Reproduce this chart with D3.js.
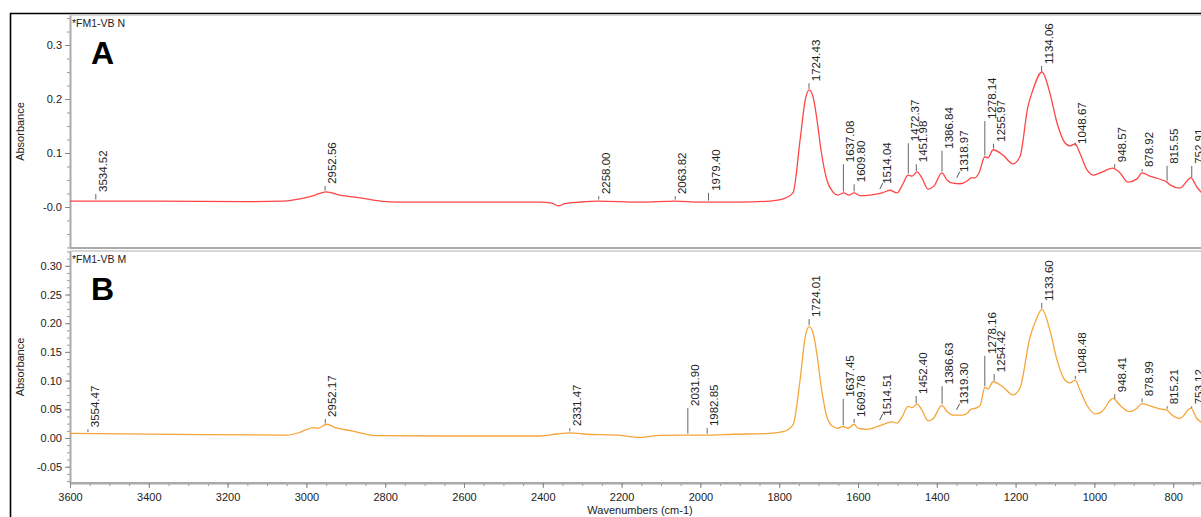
<!DOCTYPE html>
<html>
<head>
<meta charset="utf-8">
<script src="https://cdn.jsdelivr.net/npm/d3@7"></script>
<style>
  body { margin: 0; background: #fff; }
  text { font-family: "Liberation Sans", Arial, sans-serif; }
</style>
</head>
<body>
<div id="chart"></div>
<script>
// spectrum A (*FM1-VB N), wavenumber / absorbance
const wnA = [3600, 3397, 3143, 3059, 3016, 2978, 2950, 2915, 2864, 2813, 2762, 2509, 2407, 2377, 2361, 2344, 2306, 2260, 2153, 2064, 2001, 1899, 1823, 1790, 1765, 1747, 1734, 1724, 1714, 1704, 1694, 1679, 1664, 1651, 1636, 1623, 1610, 1595, 1570, 1539, 1519, 1501, 1486, 1473, 1463, 1450, 1438, 1422, 1407, 1387, 1374, 1359, 1341, 1323, 1313, 1303, 1293, 1278, 1270, 1257, 1232, 1207, 1189, 1169, 1156, 1133, 1113, 1095, 1075, 1062, 1049, 1037, 1019, 1004, 986, 953, 935, 915, 892, 879, 859, 828, 816, 808, 783, 755, 740, 730, 720];
const absA = [0.011, 0.011, 0.010, 0.011, 0.015, 0.022, 0.028, 0.022, 0.017, 0.011, 0.009, 0.009, 0.009, 0.007, 0.002, 0.006, 0.009, 0.011, 0.009, 0.011, 0.009, 0.009, 0.011, 0.015, 0.026, 0.124, 0.198, 0.217, 0.204, 0.161, 0.106, 0.050, 0.028, 0.022, 0.026, 0.022, 0.026, 0.021, 0.022, 0.026, 0.031, 0.026, 0.043, 0.059, 0.057, 0.065, 0.054, 0.033, 0.039, 0.063, 0.050, 0.044, 0.043, 0.048, 0.054, 0.054, 0.063, 0.093, 0.091, 0.106, 0.096, 0.080, 0.093, 0.185, 0.217, 0.250, 0.211, 0.156, 0.119, 0.113, 0.117, 0.100, 0.069, 0.059, 0.063, 0.072, 0.063, 0.046, 0.052, 0.063, 0.057, 0.050, 0.046, 0.041, 0.035, 0.054, 0.037, 0.028, 0.022];

// spectrum B (*FM1-VB M)
const wnB = [3600, 3270, 3049, 3016, 2983, 2971, 2948, 2927, 2889, 2821, 2635, 2407, 2364, 2331, 2298, 2204, 2153, 2103, 2034, 1983, 1917, 1823, 1790, 1765, 1747, 1734, 1724, 1714, 1704, 1694, 1679, 1664, 1651, 1638, 1625, 1610, 1600, 1577, 1539, 1514, 1501, 1488, 1473, 1463, 1450, 1438, 1422, 1410, 1387, 1374, 1359, 1334, 1321, 1316, 1298, 1290, 1278, 1270, 1257, 1232, 1207, 1189, 1164, 1148, 1133, 1113, 1095, 1075, 1062, 1049, 1037, 1019, 998, 981, 953, 935, 910, 892, 879, 859, 828, 816, 808, 783, 755, 740, 730, 720];
const absB = [0.008, 0.006, 0.005, 0.010, 0.018, 0.017, 0.024, 0.018, 0.013, 0.004, 0.0035, 0.0035, 0.007, 0.009, 0.007, 0.0045, 0.001, 0.0045, 0.005, 0.005, 0.0065, 0.008, 0.011, 0.023, 0.101, 0.176, 0.194, 0.183, 0.145, 0.092, 0.037, 0.020, 0.017, 0.020, 0.017, 0.024, 0.017, 0.015, 0.023, 0.028, 0.026, 0.037, 0.055, 0.053, 0.059, 0.049, 0.030, 0.033, 0.057, 0.046, 0.040, 0.040, 0.044, 0.049, 0.053, 0.057, 0.088, 0.085, 0.098, 0.089, 0.075, 0.087, 0.174, 0.206, 0.224, 0.188, 0.136, 0.101, 0.096, 0.101, 0.084, 0.057, 0.042, 0.046, 0.069, 0.057, 0.046, 0.052, 0.060, 0.056, 0.050, 0.049, 0.043, 0.034, 0.052, 0.034, 0.028, 0.022];

// peak labels: wavenumber and the absorbance where the label text starts
const peaksA = [3534.52, 2952.56, 2258.00, 2063.82, 1979.40, 1724.43, 1637.08, 1609.80, 1514.04, 1472.37, 1451.98, 1386.84, 1318.97, 1278.14, 1255.97, 1134.06, 1048.67, 948.57, 878.92, 815.55, 752.91];
const labelAtA = [0.026, 0.041, 0.022, 0.022, 0.028, 0.231, 0.081, 0.044, 0.041, 0.120, 0.081, 0.106, 0.063, 0.161, 0.119, 0.263, 0.115, 0.081, 0.072, 0.078, 0.078];
const peaksB = [3554.47, 2952.17, 2331.47, 2031.90, 1982.85, 1724.01, 1637.45, 1609.78, 1514.51, 1452.40, 1386.63, 1319.30, 1278.16, 1254.42, 1133.60, 1048.48, 948.41, 878.99, 815.21, 753.12];
const labelAtB = [0.017, 0.035, 0.019, 0.054, 0.019, 0.209, 0.070, 0.035, 0.037, 0.075, 0.092, 0.057, 0.145, 0.113, 0.237, 0.110, 0.078, 0.071, 0.057, 0.057];
const leaning = [1514.04, 1318.97, 1514.51, 1319.30];

// axis ticks
const xTicks = [3600, 3400, 3200, 3000, 2800, 2600, 2400, 2200, 2000, 1800, 1600, 1400, 1200, 1000, 800];
const yTicksA = [0, 0.1, 0.2, 0.3];
const yLabelsA = ["-0.0", "0.1", "0.2", "0.3"];
const yTicksB = [-0.05, 0, 0.05, 0.10, 0.15, 0.20, 0.25, 0.30];
const yLabelsB = ["-0.05", "0.00", "0.05", "0.10", "0.15", "0.20", "0.25", "0.30"];

const width = 1201, height = 517;
const left = 70;

const svg = d3.select("#chart")
  .append("svg")
    .attr("width", width)
    .attr("height", height);

const x = d3.scaleLinear()
  .domain([3600, 700])
  .range([left, left + 2900 * 0.394]);

// outer frame
svg.append("path")
  .attr("d", `M10.5,${height + 5}V13.5H${width + 5}`)
  .attr("fill", "none")
  .attr("stroke", "#000")
  .attr("stroke-width", 1.6);

svg.append("defs").append("clipPath")
    .attr("id", "plotclip")
  .append("rect")
    .attr("x", left)
    .attr("y", 15)
    .attr("width", width - left)
    .attr("height", 470);

function valueAt(wn, wns, abs) {
  for (let i = 0; i < wns.length - 1; i++) {
    if (wns[i] >= wn && wns[i + 1] <= wn) {
      const t = (wns[i] - wn) / (wns[i] - wns[i + 1]);
      return abs[i] + t * (abs[i + 1] - abs[i]);
    }
  }
  return abs[abs.length - 1];
}

function panel(cfg) {
  const y = d3.scaleLinear().domain(cfg.domain).range([cfg.bottom, cfg.top]);
  const g = svg.append("g");

  // top boundary
  g.append("line")
    .attr("x1", left).attr("x2", width)
    .attr("y1", cfg.top).attr("y2", cfg.top)
    .attr("stroke", "#c8c8c8").attr("stroke-width", 1.5);

  // y axis minor + major
  const minor = d3.range(cfg.minorStart, cfg.domain[1], cfg.minorStep);
  g.append("g")
    .attr("transform", `translate(${left},0)`)
    .call(d3.axisLeft(y).tickValues(minor).tickSize(3).tickFormat(""))
    .call(a => a.select(".domain").remove())
    .selectAll("line").attr("stroke", "#999");
  const ya = g.append("g")
    .attr("transform", `translate(${left},0)`)
    .call(d3.axisLeft(y).tickValues(cfg.ticks).tickSize(5).tickSizeOuter(0)
      .tickFormat((d, i) => cfg.labels[i]));
  ya.select(".domain").attr("stroke", "#aaa").attr("stroke-width", 2);
  ya.selectAll("line").attr("stroke", "#888");
  ya.selectAll("text").attr("font-size", 11).attr("fill", "#222")
    .attr("font-family", "Liberation Sans, Arial, sans-serif");

  // bottom line of panel
  g.append("line")
    .attr("x1", left).attr("x2", width)
    .attr("y1", cfg.bottom).attr("y2", cfg.bottom)
    .attr("stroke", "#aaa").attr("stroke-width", 2);

  // y title
  g.append("text")
    .attr("transform", `translate(24,${(cfg.top + cfg.bottom) / 2}) rotate(-90)`)
    .attr("text-anchor", "middle")
    .attr("font-size", 11)
    .attr("fill", "#222")
    .text("Absorbance");

  // sample name and panel letter
  g.append("text")
    .attr("x", left + 2).attr("y", cfg.top + 12)
    .attr("font-size", 10.5).attr("fill", "#222")
    .text(cfg.name);
  g.append("text")
    .attr("x", 91).attr("y", cfg.top + 49)
    .attr("font-size", 32).attr("font-weight", "bold").attr("fill", "#000")
    .text(cfg.letter);

  // spectrum
  const pts = cfg.wns.map((w, i) => [w, cfg.abs[i]]);
  g.append("path")
    .datum(pts)
    .attr("clip-path", "url(#plotclip)")
    .attr("fill", "none")
    .attr("stroke", cfg.color)
    .attr("stroke-width", 1.3)
    .attr("d", d3.line().x(d => x(d[0])).y(d => y(d[1])).curve(d3.curveMonotoneX));

  // peak labels
  const lab = g.append("g").attr("clip-path", "url(#plotclip)");
  cfg.peaks.forEach((p, i) => {
    const px = x(p);
    const cy = y(valueAt(p, cfg.wns, cfg.abs));
    const by = y(cfg.labelAt[i]);
    const lean = leaning.includes(p);
    if (lean) {
      lab.append("line")
        .attr("x1", px - 12).attr("y1", cy - 2)
        .attr("x2", px - 9).attr("y2", cy - 8)
        .attr("stroke", "#555").attr("stroke-width", 1);
    } else {
      lab.append("line")
        .attr("x1", px).attr("x2", px)
        .attr("y1", cy - 1.5).attr("y2", by + 1)
        .attr("stroke", "#666").attr("stroke-width", 1);
    }
    lab.append("text")
      .attr("transform", `translate(${lean ? px - 1 : px + 11},${by - 1}) rotate(-90)`)
      .attr("font-size", 11.5)
      .attr("fill", "#222")
      .text(p.toFixed(2));
  });
}

panel({
  top: 15, bottom: 248, domain: [-0.076, 0.3556],
  ticks: yTicksA, labels: yLabelsA, minorStart: -0.075, minorStep: 0.025,
  name: "*FM1-VB N", letter: "A", color: "#ff4545",
  wns: wnA, abs: absA, peaks: peaksA, labelAt: labelAtA
});

panel({
  top: 251, bottom: 483, domain: [-0.0784, 0.3258],
  ticks: yTicksB, labels: yLabelsB, minorStart: -0.075, minorStep: 0.0125,
  name: "*FM1-VB M", letter: "B", color: "#f5a53a",
  wns: wnB, abs: absB, peaks: peaksB, labelAt: labelAtB
});

// X axis
svg.append("g")
  .attr("transform", "translate(0,483)")
  .call(d3.axisBottom(x).tickValues(d3.range(3600, 700, -50)).tickSize(3).tickFormat(""))
  .call(a => a.select(".domain").remove())
  .selectAll("line").attr("stroke", "#999");
const xa = svg.append("g")
  .attr("transform", "translate(0,483)")
  .call(d3.axisBottom(x).tickValues(xTicks).tickSize(5).tickSizeOuter(0).tickFormat(d3.format("d")));
xa.select(".domain").attr("stroke", "#aaa").attr("stroke-width", 2);
xa.selectAll("line").attr("stroke", "#888");
xa.selectAll("text").attr("font-size", 11).attr("fill", "#222")
  .attr("font-family", "Liberation Sans, Arial, sans-serif").attr("dy", "0.9em");

svg.append("text")
  .attr("x", 640).attr("y", 514)
  .attr("text-anchor", "middle")
  .attr("font-size", 11)
  .attr("fill", "#222")
  .text("Wavenumbers (cm-1)");
</script>
</body>
</html>
